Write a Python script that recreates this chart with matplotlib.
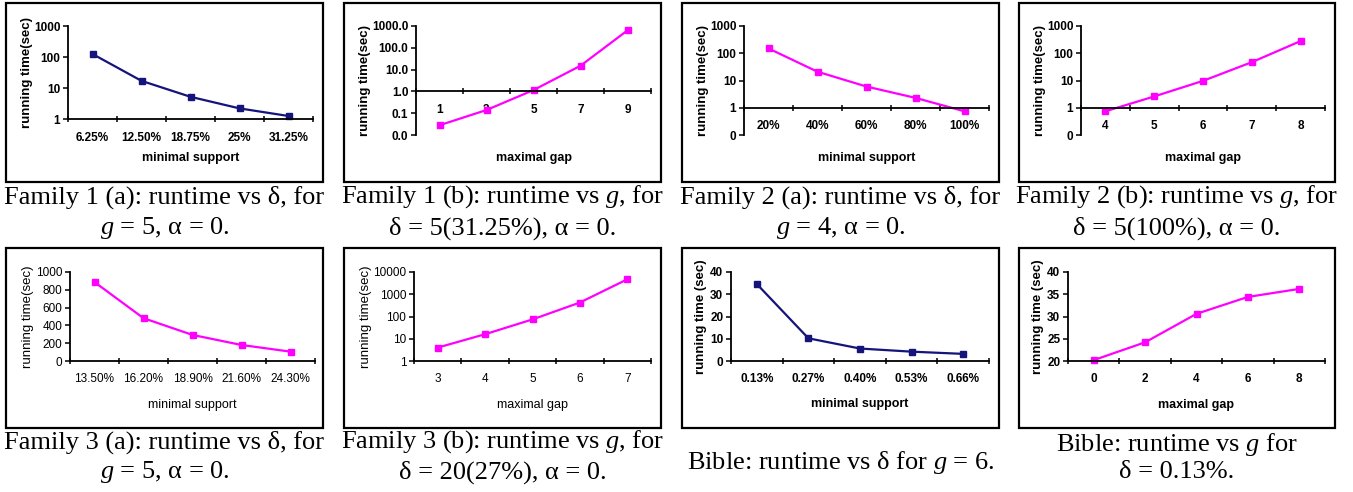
import matplotlib
matplotlib.use("Agg")
import matplotlib.pyplot as plt
from matplotlib.patches import Rectangle

plt.rcParams['mathtext.fontset'] = 'custom'
plt.rcParams['mathtext.rm'] = 'Liberation Serif'
plt.rcParams['mathtext.it'] = 'Liberation Serif:italic'

# data
f1a_x = ["6.25%", "12.50%", "18.75%", "25%", "31.25%"]
f1a_y = [125, 17, 5.2, 2.2, 1.25]
f1b_x = ["1", "3", "5", "7", "9"]
f1b_y = [0.028, 0.14, 1.15, 15, 630]
f2a_x = ["20%", "40%", "60%", "80%", "100%"]
f2a_y = [150, 21, 6, 2.3, 0.74]
f2b_x = ["4", "5", "6", "7", "8"]
f2b_y = [0.74, 2.6, 9.7, 47, 280]
f3a_x = ["13.50%", "16.20%", "18.90%", "21.60%", "24.30%"]
f3a_y = [887, 481, 293, 180, 105]
f3b_x = ["3", "4", "5", "6", "7"]
f3b_y = [4.0, 16, 74, 425, 4700]
ba_x = ["0.13%", "0.27%", "0.40%", "0.53%", "0.66%"]
ba_y = [34.6, 10.2, 5.6, 4.2, 3.2]
bb_x = ["0", "2", "4", "6", "8"]
bb_y = [20.2, 24.2, 30.6, 34.4, 36.2]

W, H = 1353, 492
NAVY = "#14147a"
MAG = "#ff00ff"
BOLD = dict(family=['Liberation Sans Narrow', 'Liberation Sans'], weight='bold')
PLAIN = dict(family=['Liberation Sans'], weight='normal')
SERIF = ['Liberation Serif', 'DejaVu Serif']

fig = plt.figure(figsize=(W / 100, H / 100), dpi=100)


def panel(box, rect, cats, vals, color, log, yticks, ylabels, ylim, cross,
          font, xlabel, ylabel, xl_y, yl_x, caption, cap_y):
    # frame around the chart
    x0, y0, x1, y1 = box
    fig.add_artist(Rectangle((x0 / W, 1 - y1 / H), (x1 - x0) / W, (y1 - y0) / H,
                             transform=fig.transFigure, fill=False,
                             edgecolor='black', linewidth=1.6))
    l, t, r, b = rect
    ax = fig.add_axes([l / W, 1 - b / H, (r - l) / W, (b - t) / H])
    xs = list(range(len(cats)))
    ax.plot(xs, vals, color=color, linewidth=1.6, marker='s', markersize=4,
            markeredgecolor=color, clip_on=False)
    if log:
        ax.set_yscale('log')
    ax.set_ylim(*ylim)
    ax.set_xlim(-0.5, len(cats) - 0.5)
    ax.set_yticks(yticks)
    ax.set_yticklabels(ylabels)
    ax.yaxis.set_minor_locator(plt.NullLocator())
    ax.set_xticks(xs)
    ax.set_xticklabels(cats)
    ax.set_xticks([i - 0.5 for i in range(len(cats) + 1)], minor=True)
    for s in ['top', 'right']:
        ax.spines[s].set_visible(False)
    ax.spines['bottom'].set_position(('data', cross))
    ax.spines['left'].set_linewidth(1.3)
    ax.spines['bottom'].set_linewidth(1.3)
    ax.tick_params(axis='x', which='major', length=0, pad=9)
    ax.tick_params(axis='x', which='minor', direction='inout', length=5, width=1.1)
    ax.tick_params(axis='y', which='major', direction='out', length=3.5, width=1.1, pad=2)
    for lab in ax.get_xticklabels() + ax.get_yticklabels():
        lab.set_fontsize(8.5)
        lab.set(**font)
    ax.patch.set_alpha(0)
    ax.set_xlabel(xlabel, fontsize=9, **font)
    ax.set_ylabel(ylabel, fontsize=9.5, **font)
    ax.xaxis.set_label_coords(((l + r) / 2 - l) / (r - l), (b - xl_y) / (b - t))
    ax.xaxis.label.set_va('center')
    ax.yaxis.set_label_coords((yl_x - l) / (r - l), 0.5)
    ax.yaxis.label.set_va('center')
    cx = (x0 + x1) / 2 / W
    for line, yy in zip(caption, cap_y):
        fig.text(cx, 1 - yy / H, line, ha='center', va='center',
                 fontsize=19, family=SERIF)
    return ax


row1_cap = [197, 228]
row2_cap = [442, 472]

panel((6, 3, 323, 182), (68, 26, 313, 119), f1a_x, f1a_y, NAVY, True,
      [1, 10, 100, 1000], ["1", "10", "100", "1000"], (1, 1000), 1,
      BOLD, "minimal support", "running time(sec)", 158, 27,
      ["Family 1 (a): runtime vs δ, for", "$g$ = 5, α = 0."], row1_cap)

panel((344, 3, 661, 182), (416, 26, 651, 135), f1b_x, f1b_y, MAG, True,
      [0.01, 0.1, 1, 10, 100, 1000],
      ["0.0", "0.1", "1.0", "10.0", "100.0", "1000.0"], (0.01, 1000), 1,
      BOLD, "maximal gap", "running time(sec)", 158, 365,
      ["Family 1 (b): runtime vs $g$, for", "δ = 5(31.25%), α = 0."], row1_cap)

panel((682, 3, 999, 182), (744, 26, 989, 135), f2a_x, f2a_y, MAG, True,
      [0.1, 1, 10, 100, 1000], ["0", "1", "10", "100", "1000"], (0.1, 1000), 1,
      BOLD, "minimal support", "running time(sec)", 158, 703,
      ["Family 2 (a): runtime vs δ, for", "$g$ = 4, α = 0."], row1_cap)

panel((1019, 3, 1335, 182), (1081, 26, 1325, 135), f2b_x, f2b_y, MAG, True,
      [0.1, 1, 10, 100, 1000], ["0", "1", "10", "100", "1000"], (0.1, 1000), 1,
      BOLD, "maximal gap", "running time(sec)", 158, 1040,
      ["Family 2 (b): runtime vs $g$, for", "δ = 5(100%), α = 0."], row1_cap)

panel((6, 248, 323, 428), (70, 272, 315, 361), f3a_x, f3a_y, MAG, False,
      [0, 200, 400, 600, 800, 1000], ["0", "200", "400", "600", "800", "1000"],
      (0, 1000), 0,
      PLAIN, "minimal support", "running time(sec)", 405, 28,
      ["Family 3 (a): runtime vs δ, for", "$g$ = 5, α = 0."], row2_cap)

panel((344, 248, 661, 428), (414, 272, 651, 361), f3b_x, f3b_y, MAG, True,
      [1, 10, 100, 1000, 10000], ["1", "10", "100", "1000", "10000"],
      (1, 10000), 1,
      PLAIN, "maximal gap", "running time(sec)", 405, 366,
      ["Family 3 (b): runtime vs $g$, for", "δ = 20(27%), α = 0."], row2_cap)

panel((682, 248, 999, 428), (731, 272, 989, 361), ba_x, ba_y, NAVY, False,
      [0, 10, 20, 30, 40], ["0", "10", "20", "30", "40"], (0, 40), 0,
      BOLD, "minimal support", "running time (sec)", 404, 701,
      ["Bible: runtime vs δ for $g$ = 6."], [462])

panel((1019, 248, 1335, 428), (1068, 272, 1325, 361), bb_x, bb_y, MAG, False,
      [20, 25, 30, 35, 40], ["20", "25", "30", "35", "40"], (20, 40), 20,
      BOLD, "maximal gap", "running time (sec)", 405, 1038,
      ["Bible: runtime vs $g$ for", "δ = 0.13%."], [445, 472])

fig.savefig("out.png", dpi=100)
